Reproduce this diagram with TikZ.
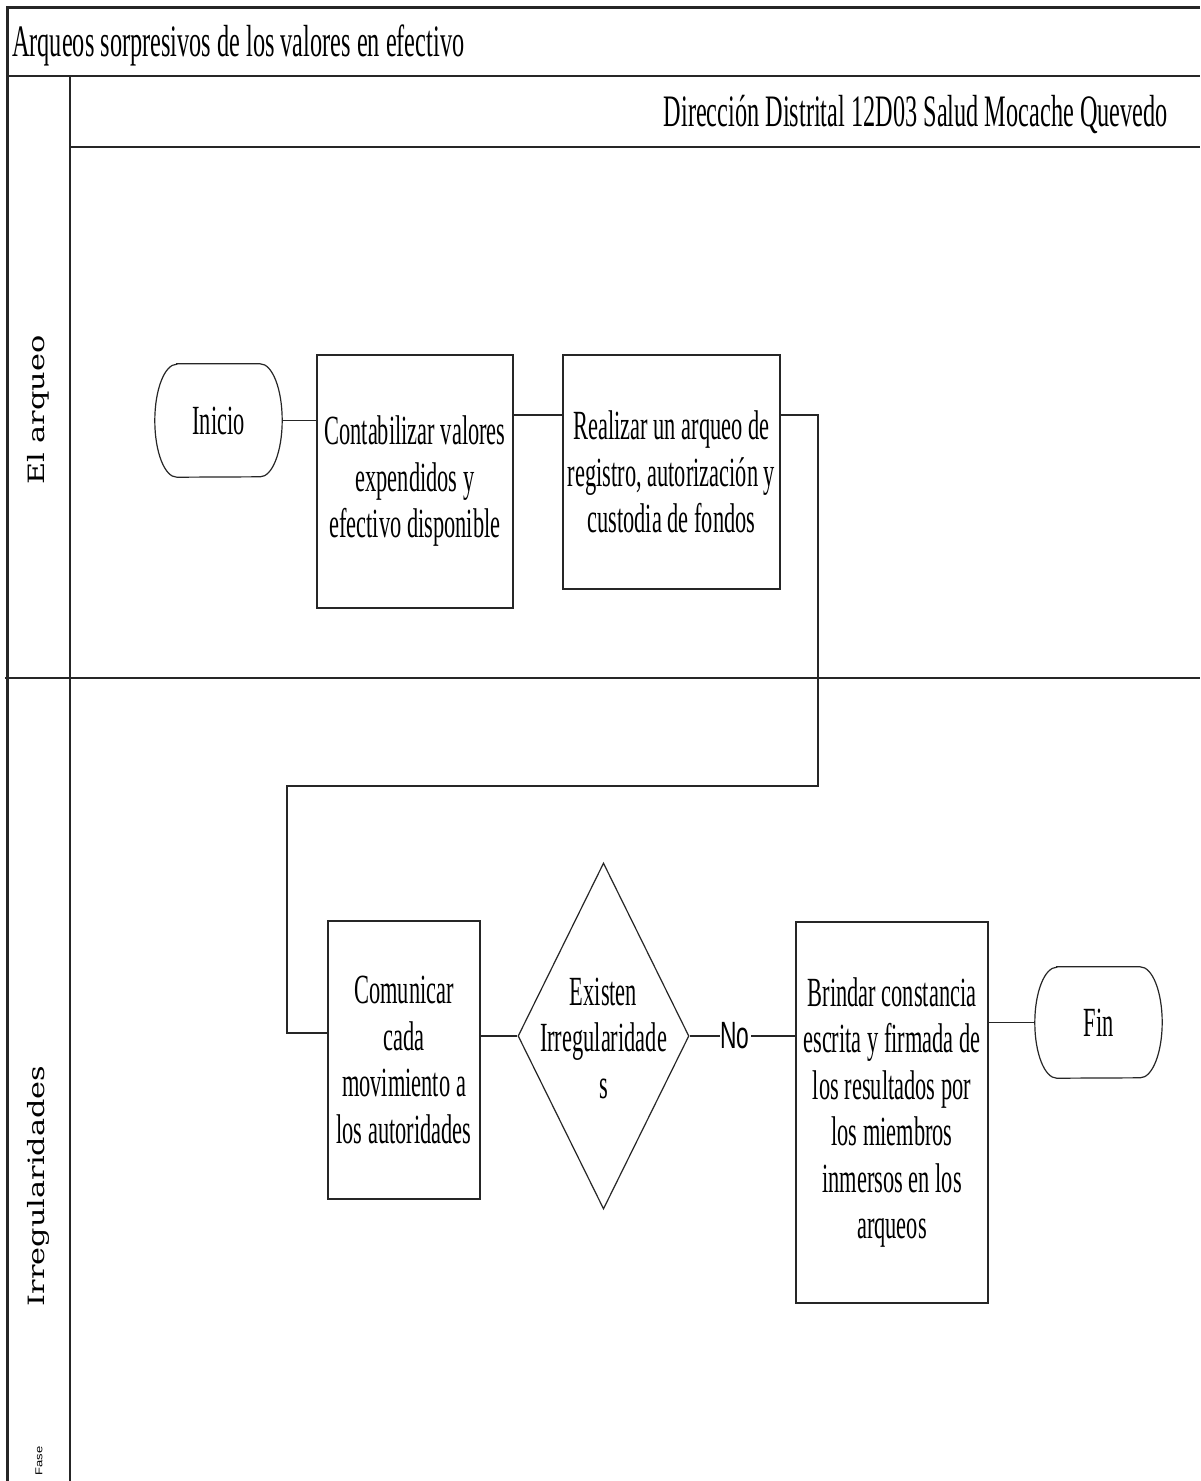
\documentclass[tikz,border=0pt]{standalone}
\usepackage{fontspec}
\setmainfont{Liberation Serif}[FakeStretch=0.54]
\newfontfamily\lanefont{DejaVu Serif}[FakeStretch=1.35]
\newfontfamily\nolabelfont{Liberation Sans}[FakeStretch=0.6]
\newfontfamily\fasefont{Liberation Sans}[FakeStretch=1.3]
\usetikzlibrary{shapes.geometric}

\begin{document}
\begin{tikzpicture}[x=1pt,y=-1pt,
  frameline/.style={line width=2pt, draw=black!85},
  conn/.style={line width=1.2pt, draw=black!85},
  outline/.style={line width=1.2pt, draw=black!85},
  headtext/.style={font=\fontsize{45}{50}\selectfont, inner sep=0pt},
  lanetext/.style={font=\lanefont\fontsize{22.5}{26}\selectfont, rotate=90, inner sep=0pt},
  bodyfont/.style={font=\fontsize{41.5}{46.5}\selectfont},
  stepbox/.style={outline, draw, inner sep=0pt, align=center, bodyfont},
  terminal/.style={inner sep=0pt, bodyfont},
  decision/.style={outline, draw, diamond, inner sep=0pt},
]
\fill[white] (0,0) rectangle (1200,1481);
\useasboundingbox (0,0) rectangle (1200,1481);

% pool frame and lanes
\draw[frameline, line width=3pt] (7,1481) -- (7,7) -- (1200,7);
\draw[frameline] (7,76) -- (1200,76);
\draw[frameline] (70,76) -- (70,1481);
\draw[frameline] (70,147) -- (1200,147);
\draw[frameline] (5,678) -- (1200,678);

% headings
\node[headtext, anchor=west] (title) at (12,45) {Arqueos sorpresivos de los valores en efectivo};
\node[headtext, anchor=east] (org) at (1168,114) {Dirección Distrital 12D03 Salud Mocache Quevedo};

% lane labels
\node[lanetext] (lane1) at (38,410) {El arqueo};
\node[lanetext] (lane2) at (38,1186) {Irregularidades};
\node[font=\fasefont\fontsize{10}{12}\selectfont, rotate=90, inner sep=0pt] (fase) at (39,1461) {Fase};

% start / end terminals
\node[terminal, minimum width=127pt, minimum height=113pt] (ini) at (218.5,420.5) {Inicio};
\node[terminal, minimum width=127pt, minimum height=111pt] (fin) at (1098.5,1022.5) {Fin};
\draw[outline] ([xshift=22pt]ini.north west) -- ([xshift=-22pt]ini.north east)
  arc[start angle=90, end angle=-90, x radius=22pt, y radius=56.5pt]
  -- ([xshift=22pt]ini.south west)
  arc[start angle=270, end angle=90, x radius=22pt, y radius=56.5pt] -- cycle;
\draw[outline] ([xshift=22pt]fin.north west) -- ([xshift=-22pt]fin.north east)
  arc[start angle=90, end angle=-90, x radius=22pt, y radius=55.5pt]
  -- ([xshift=22pt]fin.south west)
  arc[start angle=270, end angle=90, x radius=22pt, y radius=55.5pt] -- cycle;

% activities
\node[stepbox, minimum width=196pt, minimum height=253pt] (b1) at (415,481.5)
  {Contabilizar valores\\expendidos y\\efectivo disponible};
\node[stepbox, minimum width=217pt, minimum height=234pt] (b2) at (671.5,472)
  {Realizar un arqueo de\\registro, autorización y\\custodia de fondos};
\node[stepbox, minimum width=152pt, minimum height=278pt] (b3) at (404,1060)
  {Comunicar\\cada\\movimiento a\\los autoridades};
\node[stepbox, minimum width=192pt, minimum height=381pt] (b4) at (892,1112.5)
  {Brindar constancia\\escrita y firmada de\\los resultados por\\los miembros\\inmersos en los\\arqueos};

% decision
\node[decision, minimum width=171pt, minimum height=346pt] (d) at (603.5,1036) {};
\node[bodyfont, align=center, inner sep=0pt] (dtext) at (603.5,1038)
  {Existen\\Irregularidade\\s};

% connectors
\draw[conn] (ini.east) -- (ini.east -| b1.west);
\draw[conn] ([yshift=57pt]b2.west) -- ([yshift=57pt]b2.west -| b1.east);
\draw[conn] ([yshift=57pt]b2.east) -- (818,415) -- (818,786) -- (287,786) -- (287,1033)
  -- ([yshift=27pt]b3.west);
\draw[conn] (d.west) -- (d.west -| b3.east);
\draw[conn] (d.east) -- (d.east -| b4.west)
  node[pos=0.43, fill=white, inner sep=1pt, font=\nolabelfont\fontsize{38}{42}\selectfont] (no) {No};
\draw[conn] (fin.west) -- (fin.west -| b4.east);
\end{tikzpicture}
\end{document}
